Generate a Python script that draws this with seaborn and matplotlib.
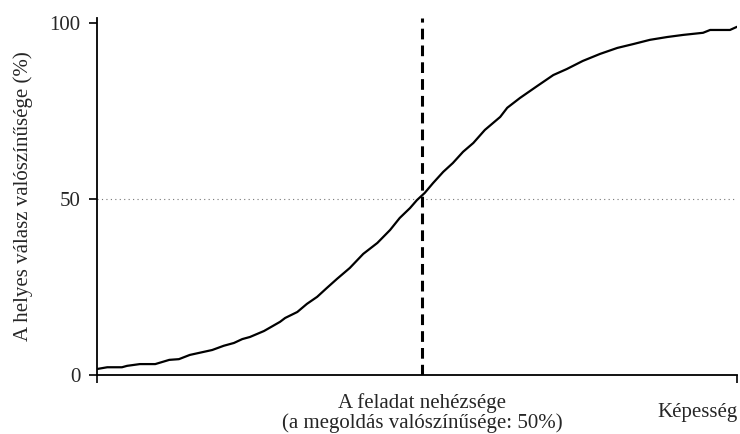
import matplotlib
matplotlib.use("Agg")
import matplotlib.pyplot as plt
import seaborn as sns
import pandas as pd

# Data (ability scale 0-100, probability in %)
ability = [0.0, 1.6, 3.9, 4.7, 6.7, 9.1, 11.3, 12.8, 14.5, 18.0, 19.8, 21.4, 22.7,
           23.9, 26.1, 28.6, 29.4, 31.3, 32.8, 34.4, 35.9, 37.5, 39.5, 41.6, 43.8,
           45.8, 47.3, 48.9, 50.0, 51.2, 52.5, 54.1, 55.6, 57.2, 58.8, 60.6, 63.0,
           64.1, 66.1, 68.8, 71.3, 73.4, 75.9, 78.6, 81.3, 83.8, 86.4, 89.1, 91.6,
           94.7, 95.8, 98.9, 100.0]
probability = [1.7, 2.2, 2.2, 2.6, 3.1, 3.1, 4.3, 4.5, 5.7, 7.1, 8.3, 9.1, 10.2,
               10.8, 12.5, 15.1, 16.2, 17.9, 20.2, 22.2, 24.7, 27.3, 30.4, 34.4, 37.5,
               41.2, 44.6, 47.4, 49.7, 51.7, 54.5, 57.7, 60.2, 63.4, 65.9, 69.6, 73.3,
               75.9, 78.7, 82.1, 85.2, 86.9, 89.2, 91.2, 92.9, 94.0, 95.2, 96.0, 96.6,
               97.2, 98.0, 98.0, 98.9]
difficulty = 50.8
half_level = 50
y_ticks = [0, 50, 100]

y_label = "A helyes válasz valószínűsége (%)"
x_label = "A feladat nehézsége\n(a megoldás valószínűsége: 50%)"
x_end_label = "Képesség"

sns.set_theme(style="white")
plt.rcParams['font.family'] = ['Liberation Serif', 'DejaVu Serif']

df = pd.DataFrame({"ability": ability, "probability": probability})

fig = plt.figure(figsize=(7.4, 4.34), dpi=100)
ax = fig.add_axes([97 / 740, (434 - 375) / 434, 640 / 740, (375 - 18) / 434])

sns.lineplot(data=df, x="ability", y="probability", ax=ax, color="black",
             linewidth=1.6, estimator=None, sort=False)

ax.axhline(half_level, color="#777777", linestyle=(0, (1, 3)), linewidth=0.8, zorder=1)
ax.axvline(difficulty, color="black", linestyle=(0, (3.5, 2)), linewidth=2.2, zorder=3)

ax.set_xlim(0, 100)
ax.set_ylim(0, 101.4)
ax.set_yticks(y_ticks)
ax.set_yticklabels([str(t) for t in y_ticks], fontsize=15)
ax.set_xticks([0, 100])
ax.set_xticklabels(["", ""])
ax.tick_params(axis="both", which="both", direction="out", length=6, width=1.2,
               color="black", pad=6, left=True, bottom=True)

for side in ["top", "right"]:
    ax.spines[side].set_visible(False)
for side in ["left", "bottom"]:
    ax.spines[side].set_color("black")
    ax.spines[side].set_linewidth(1.3)

ax.set_xlabel("")
ax.set_ylabel(y_label, fontsize=15, labelpad=12)

ax.text(difficulty, -0.05, x_label, transform=ax.get_xaxis_transform(),
        ha="center", va="top", fontsize=15, linespacing=1.05)
ax.text(93.8, -0.078, x_end_label, transform=ax.get_xaxis_transform(),
        ha="center", va="top", fontsize=15)

ax.grid(False)
fig.savefig("out.png", dpi=100, facecolor="white")
